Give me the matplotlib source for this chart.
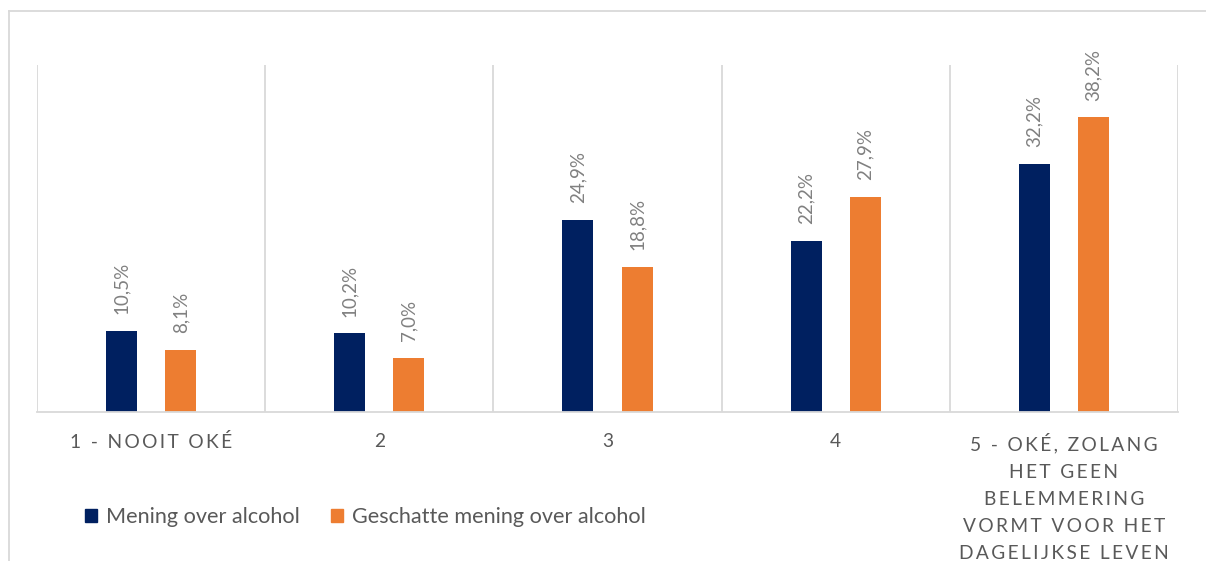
import matplotlib
matplotlib.use("Agg")
import matplotlib.pyplot as plt
from matplotlib.lines import Line2D
from matplotlib.patches import Patch
import numpy as np

plt.rcParams['font.family'] = ['Lato', 'DejaVu Sans']

categories = ["1 - NOOIT OKÉ", "2", "3", "4",
              "5 - OKÉ, ZOLANG\nHET GEEN\nBELEMMERING\nVORMT VOOR HET\nDAGELIJKSE LEVEN"]
mening = [10.5, 10.2, 24.9, 22.2, 32.2]
geschat = [8.1, 7.0, 18.8, 27.9, 38.2]
series_names = ["Mening over alcohol", "Geschatte mening over alcohol"]

navy = "#002060"
orange = "#ED7D31"
grid_col = "#D9D9D9"


def spaced(s):
    # Excel-style letter spacing on the category labels
    return "\n".join("\u2009".join(line) for line in s.split("\n"))


fig = plt.figure(figsize=(12.06, 5.61), dpi=100)
ax = fig.add_axes([37 / 1206, 149 / 561, 1141 / 1206, 347 / 561])

x = np.arange(len(categories))
w = 0.136
off = 0.13
b1 = ax.bar(x - off, mening, w, color=navy, label=series_names[0])
b2 = ax.bar(x + off, geschat, w, color=orange, label=series_names[1])

for bars, vals in [(b1, mening), (b2, geschat)]:
    for b, v in zip(bars, vals):
        ax.annotate(f"{v:.1f}%".replace(".", ","),
                    (b.get_x() + b.get_width() / 2, v),
                    xytext=(0, 12), textcoords="offset points",
                    rotation=90, ha="center", va="bottom",
                    fontsize=13.5, color="#808080")

ax.set_xlim(-0.5, len(categories) - 0.5)
ax.set_ylim(0, 45)
ax.set_yticks([])
ax.set_xticks(x)
ax.set_xticklabels([spaced(c) for c in categories], fontsize=13.8,
                   color="#595959", linespacing=1.72, va="top")
ax.tick_params(axis="x", length=0, pad=15)
ax.set_xticks(np.arange(-0.5, len(categories)), minor=True)
ax.tick_params(axis="x", which="minor", length=0)
ax.grid(axis="x", which="minor", color=grid_col, linewidth=1.3)
for s in ["top", "right", "left"]:
    ax.spines[s].set_visible(False)
ax.spines["bottom"].set_color(grid_col)
ax.spines["bottom"].set_linewidth(1.3)

handles = [Patch(color=navy), Patch(color=orange)]
fig.legend(handles, series_names, loc="center left",
           bbox_to_anchor=(65 / 1206, 1 - 517 / 561), ncol=2, frameon=False,
           fontsize=15.6, labelcolor="#595959", handlelength=0.57,
           handleheight=0.57, handletextpad=0.4, columnspacing=1.45)

# chart area border
fig.add_artist(Line2D([9 / 1206, 1.0], [1 - 11 / 561] * 2, color=grid_col, lw=1.3))
fig.add_artist(Line2D([9 / 1206] * 2, [0, 1 - 11 / 561], color=grid_col, lw=1.3))

fig.savefig("out.png", dpi=100)
